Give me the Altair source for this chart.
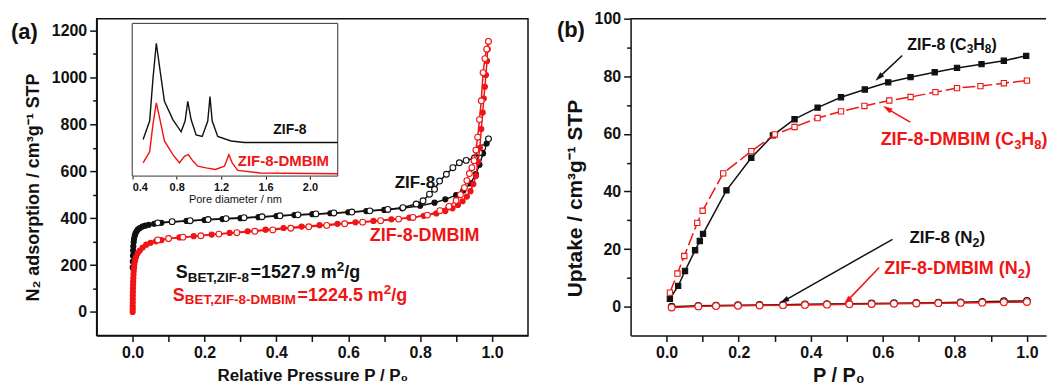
import math
import altair as alt
import pandas as pd

FONT = "Liberation Sans"
INK = "#111111"
RED = "#f01414"

# ---------------- Panel (a): N2 isotherms ----------------
zif8_ads_p = [0.0003, 0.0006, 0.001, 0.0015, 0.002, 0.003, 0.004, 0.006, 0.008, 0.011, 0.015, 0.02,
              0.027, 0.035, 0.045, 0.06, 0.08, 0.11, 0.15, 0.2, 0.25, 0.3, 0.35, 0.4, 0.45, 0.5, 0.55,
              0.6, 0.65, 0.7, 0.75, 0.8, 0.84, 0.87, 0.9, 0.92, 0.94, 0.955, 0.965, 0.975, 0.985, 0.99]
zif8_ads_v = [190, 215, 240, 262, 280, 298, 312, 325, 335, 344, 352, 358,
              364, 368, 372, 376, 380, 384, 388, 392, 396, 400, 404, 409, 413, 417, 421,
              425, 430, 435, 442, 453, 466, 480, 498, 518, 548, 588, 628, 676, 718, 738]
zif8_des_p = [0.99, 0.974, 0.965, 0.951, 0.928, 0.909, 0.891, 0.873, 0.854, 0.84, 0.826, 0.808,
              0.789, 0.752, 0.71, 0.66, 0.61, 0.56, 0.51, 0.46, 0.41, 0.36, 0.31, 0.26, 0.21, 0.16,
              0.11, 0.07]
zif8_des_v = [738, 700, 679, 656, 646, 636, 615, 587, 558, 523, 502, 474,
              460, 445, 437, 431, 426, 422, 418, 414, 410, 406, 402, 398, 394, 389,
              385, 380]
dmb_ads_p = [0.0001, 0.0002, 0.0003, 0.0004, 0.0005, 0.0006, 0.0008, 0.001, 0.0013, 0.0016, 0.002,
             0.0025, 0.003, 0.004, 0.005, 0.007, 0.01, 0.014, 0.02, 0.028, 0.038, 0.05, 0.065, 0.08,
             0.1, 0.13, 0.17, 0.22, 0.27, 0.32, 0.37, 0.42, 0.47, 0.52, 0.57, 0.62, 0.67, 0.72, 0.77,
             0.81, 0.845, 0.87, 0.89, 0.905, 0.918, 0.93, 0.94, 0.948, 0.955, 0.961, 0.966, 0.97,
             0.974, 0.977, 0.98, 0.983, 0.986, 0.988, 0.99]
dmb_ads_v = [0, 12, 25, 40, 55, 70, 85, 100, 115, 130, 145,
             160, 175, 190, 205, 220, 235, 250, 262, 275, 287, 295, 301, 306,
             312, 318, 323, 330, 337, 344, 351, 358, 364, 370, 376, 382, 388, 395, 402,
             410, 420, 430, 442, 456, 472, 492, 515, 545, 580, 640, 700, 780,
             850, 910, 960, 1010, 1070, 1120, 1153]
dmb_des_p = [0.99, 0.985, 0.98, 0.975, 0.97, 0.965, 0.96, 0.955, 0.95, 0.944, 0.937, 0.93, 0.923,
             0.912, 0.9, 0.88, 0.855, 0.82, 0.78, 0.74, 0.69, 0.64, 0.59, 0.54, 0.49, 0.44, 0.39,
             0.34, 0.29, 0.24, 0.19, 0.14, 0.1, 0.07]
dmb_des_v = [1153, 1120, 1080, 1020, 900, 820, 745, 690, 645, 615, 590, 560, 530,
             500, 475, 450, 432, 413, 403, 396, 389, 383, 376, 369, 363, 357, 350,
             344, 338, 332, 325, 319, 313, 307]

# inset: pore size distribution (arbitrary units)
psd_zif8_d = [0.498, 0.557, 0.587, 0.617, 0.647, 0.69, 0.766, 0.84, 0.876, 0.9, 0.93, 0.975, 1.03,
              1.08, 1.10, 1.12, 1.17, 1.29, 1.41, 2.25]
psd_zif8_w = [24, 36, 64, 87, 71, 49, 37, 29, 36, 49, 37, 27, 26, 36, 52, 36, 26, 23, 22, 22]
psd_dmb_d = [0.498, 0.557, 0.587, 0.617, 0.647, 0.69, 0.766, 0.825, 0.87, 0.905, 0.945, 0.99, 1.065,
             1.15, 1.23, 1.27, 1.30, 1.35, 1.555, 2.25]
psd_dmb_w = [8.7, 16, 34, 48, 38, 23, 14, 8.7, 13, 14, 10, 6.5, 5.4, 4.3, 6.5, 14, 8.7, 3.7, 2, 1.5]

# ---------------- Panel (b): C3H8 / N2 uptake ----------------
c3_zif8_p = [0.009, 0.032, 0.051, 0.079, 0.092, 0.101, 0.166, 0.235, 0.295, 0.355, 0.419, 0.484,
             0.55, 0.615, 0.677, 0.744, 0.806, 0.874, 0.936, 0.998]
c3_zif8_v = [2.7, 7.2, 12.4, 19.6, 22.8, 25.3, 40.4, 51.7, 59.5, 65.1, 69.1, 72.7,
             75.4, 77.9, 79.7, 81.4, 82.9, 84.2, 85.4, 87.1]
c3_dmb_p = [0.009, 0.03, 0.049, 0.085, 0.1, 0.157, 0.235, 0.3, 0.355, 0.419, 0.484, 0.549, 0.618,
            0.677, 0.746, 0.806, 0.871, 0.936, 1.0]
c3_dmb_v = [4.9, 11.5, 17.6, 29.1, 33.3, 46.3, 54.0, 59.8, 62.4, 65.5, 67.8, 69.7, 71.6,
            72.8, 74.5, 75.9, 76.6, 77.6, 78.5]
n2_p = [0.014, 0.088, 0.137, 0.198, 0.258, 0.323, 0.384, 0.445, 0.507, 0.569, 0.631, 0.693, 0.754,
        0.816, 0.876, 0.936, 1.0]
n2_zif8_v = [0.0, 0.3, 0.4, 0.5, 0.6, 0.7, 0.8, 0.9, 1.0, 1.1, 1.2, 1.3, 1.4, 1.5, 1.7, 1.9, 2.0]
n2_dmb_v = [-0.3, 0.1, 0.2, 0.3, 0.4, 0.5, 0.6, 0.7, 0.8, 0.9, 1.0, 1.1, 1.2, 1.3, 1.4, 1.5, 1.6]

# tick values
A_XTICKS = [0.0, 0.1, 0.2, 0.3, 0.4, 0.5, 0.6, 0.7, 0.8, 0.9, 1.0]
A_YTICKS = [0, 100, 200, 300, 400, 500, 600, 700, 800, 900, 1000, 1100, 1200]
B_YTICKS = [0, 10, 20, 30, 40, 50, 60, 70, 80, 90, 100]
IN_XTICKS = [0.4, 0.8, 1.2, 1.6, 2.0]

# ---------------- geometry / style ----------------
A_W, A_H = 433, 318
B_W, B_H = 417, 318
A_XDOM, A_YDOM = [-0.1, 1.1], [-100, 1250]
B_XDOM, B_YDOM = [-0.1, 1.053], [-10, 100]
IN_XDOM, IN_YDOM = [0.4, 2.25], [0, 100]
IN_XRANGE, IN_YRANGE = [35.7, 242], [158, 4.7]

# Arial/Liberation Sans Bold advance widths (per em) for rich-text layout
BOLD_W = {" ": .278, "(": .333, ")": .333, "-": .333, ",": .278, ".": .278, "/": .278, "=": .584,
          "B": .722, "C": .722, "D": .722, "E": .667, "F": .611, "H": .722, "I": .278, "M": .833,
          "N": .722, "S": .667, "T": .611, "Z": .611, "m": .889, "g": .611}


def text_width(s, size):
    return sum(BOLD_W.get(ch, .556) for ch in s) * size


AX = dict(domainColor=INK, domainWidth=1.5, tickColor=INK, tickWidth=1.5,
          labelFont=FONT, labelFontSize=16, labelFontWeight="bold", labelColor=INK,
          titleFont=FONT, titleFontWeight="bold", titleColor=INK, grid=False)


def minor_ticks(test):
    return {"condition": {"test": test, "value": 7}, "value": 4}


ax_a_x = alt.Axis(values=A_XTICKS, title="Relative Pressure P / P₀", titleFontSize=17, titlePadding=7,
                  tickSize=6, labelPadding=3,
                  labelExpr="abs(round(datum.value*10)) % 2 == 0 ? format(datum.value, '.1f') : ''", **AX)
ax_a_y = alt.Axis(values=A_YTICKS, title="N₂ adsorption / cm³g⁻¹ STP", titleFontSize=18, titlePadding=9,
                  titleY=169, tickSize=minor_ticks("datum.value % 200 == 0"), labelPadding=3,
                  labelExpr="datum.value % 200 == 0 ? format(datum.value, 'd') : ''", **AX)
ax_b_x = alt.Axis(values=A_XTICKS, title="P / P₀", titleFontSize=20, titlePadding=5,
                  tickSize=6, labelPadding=3,
                  labelExpr="abs(round(datum.value*10)) % 2 == 0 ? format(datum.value, '.1f') : ''", **AX)
ax_b_y = alt.Axis(values=B_YTICKS, title="Uptake / cm³g⁻¹ STP", titleFontSize=21, titlePadding=9,
                  titleY=180, tickSize=minor_ticks("datum.value % 20 == 0"), labelPadding=3,
                  labelExpr="datum.value % 20 == 0 ? format(datum.value, 'd') : ''", **AX)
ax_in_x = alt.Axis(orient="bottom", offset=-160, values=IN_XTICKS, format=".1f", title="Pore diameter / nm",
                   titleFont=FONT, titleFontSize=11, titleFontWeight="normal", titleColor=INK, titlePadding=2,
                   labelFont=FONT, labelFontSize=11, labelFontWeight="bold", labelColor=INK, labelPadding=2,
                   tickColor=INK, tickSize=3, tickWidth=1, domain=False, grid=False)

sa_x = alt.Scale(domain=A_XDOM, nice=False, zero=False)
sa_y = alt.Scale(domain=A_YDOM, nice=False, zero=False)
sb_x = alt.Scale(domain=B_XDOM, nice=False, zero=False)
sb_y = alt.Scale(domain=B_YDOM, nice=False, zero=False)
si_x = alt.Scale(domain=IN_XDOM, range=IN_XRANGE, nice=False, zero=False)
si_y = alt.Scale(domain=IN_YDOM, range=IN_YRANGE, nice=False, zero=False)


def enc_a(fx, fy):
    return dict(x=alt.X(fx, type="quantitative", scale=sa_x, axis=ax_a_x),
                y=alt.Y(fy, type="quantitative", scale=sa_y, axis=ax_a_y))


def enc_b(fx, fy):
    return dict(x=alt.X(fx, type="quantitative", scale=sb_x, axis=ax_b_x),
                y=alt.Y(fy, type="quantitative", scale=sb_y, axis=ax_b_y))


def enc_in(fx, fy):
    return dict(x=alt.X(fx, type="quantitative", scale=si_x, axis=ax_in_x),
                y=alt.Y(fy, type="quantitative", scale=si_y, axis=None))


def series(p, v, color, enc, fill, size, shape="circle", dash=None, sw=1.5, points=True):
    df = pd.DataFrame({"p": p, "v": v, "o": list(range(len(p)))})
    kw = dict(color=color, strokeWidth=sw)
    if dash:
        kw["strokeDash"] = dash
    out = [alt.Chart(df).mark_line(**kw).encode(order="o:Q", **enc("p", "v"))]
    if points:
        out.append(alt.Chart(df).mark_point(shape=shape, filled=True, fill=fill, stroke=color,
                                            strokeWidth=1.1, size=size, opacity=1).encode(**enc("p", "v")))
    return out


def label(enc, p, v, text, color, size, dx=0, dy=0, weight="bold"):
    df = pd.DataFrame({"p": [p], "v": [v], "t": [text]})
    return alt.Chart(df).mark_text(align="left", baseline="alphabetic", dx=dx, dy=dy, font=FONT,
                                   fontSize=size, fontWeight=weight, color=color).encode(text="t:N", **enc("p", "v"))


def rich(enc, p, v, pieces, color, size, small):
    """pieces: list of (text, kind) with kind 'n' normal, 'sub' subscript, 'sup' superscript."""
    out, dx = [], 0.0
    for txt, kind in pieces:
        fs = size if kind == "n" else small
        dy = 0 if kind == "n" else (round(size * 0.24) if kind == "sub" else -round(size * 0.4))
        out.append(label(enc, p, v, txt, color, fs, dx=round(dx, 1), dy=dy))
        dx += text_width(txt, fs)
    return out


def arrow(enc, p0, v0, p1, v1, color, pxx, pxy):
    df = pd.DataFrame({"p0": [p0], "v0": [v0], "p1": [p1], "v1": [v1]})
    rule = alt.Chart(df).mark_rule(color=color, strokeWidth=1.5).encode(
        x2=alt.X2("p1"), y2=alt.Y2("v1"), **enc("p0", "v0"))
    dxp = (p1 - p0) * pxx
    dyp = -(v1 - v0) * pxy
    ang = math.degrees(math.atan2(dxp, -dyp)) % 360
    head = alt.Chart(df).mark_point(shape="M0,-1L0.55,0.9L-0.55,0.9Z", filled=True, fill=color, stroke=color,
                                    strokeWidth=0.5, size=80, angle=ang, opacity=1).encode(**enc("p1", "v1"))
    return [rule, head]


def corner(text, x, y):
    return alt.Chart(pd.DataFrame({"t": [text]})).mark_text(
        align="left", baseline="top", font=FONT, fontSize=22, fontWeight="bold", color=INK
    ).encode(x=alt.value(x), y=alt.value(y), text="t:N")


# ---------------- panel (a) ----------------
layers_a = []
layers_a += series(zif8_ads_p, zif8_ads_v, INK, enc_a, INK, 26)
layers_a += series(zif8_des_p, zif8_des_v, INK, enc_a, "white", 34)
layers_a += series(dmb_ads_p, dmb_ads_v, RED, enc_a, RED, 26)
layers_a += series(dmb_des_p, dmb_des_v, RED, enc_a, "white", 34)
layers_a += [
    label(enc_a, 0.729, 529, "ZIF-8", INK, 17),
    label(enc_a, 0.66, 304, "ZIF-8-DMBIM", RED, 18),
    corner("(a)", -86, 3),
]
layers_a += rich(enc_a, 0.12, 146.6, [("S", "n"), ("BET,ZIF-8", "sub"), ("=1527.9 m", "n"),
                                        ("2", "sup"), ("/g", "n")], INK, 18, 13.5)
layers_a += rich(enc_a, 0.112, 49, [("S", "n"), ("BET,ZIF-8-DMBIM", "sub"), ("=1224.5 m", "n"),
                                     ("2", "sup"), ("/g", "n")], RED, 18, 13.5)
main_a = alt.layer(*layers_a)

frame_df = pd.DataFrame({"x0": [IN_XDOM[0]], "x1": [IN_XDOM[1]], "y0": [IN_YDOM[0]], "y1": [IN_YDOM[1]]})
inset_frame = alt.Chart(frame_df).mark_rect(fill="white", stroke="#333333", strokeWidth=1).encode(
    x2=alt.X2("x1"), y2=alt.Y2("y1"), **enc_in("x0", "y0"))
inset_layers = [inset_frame]
inset_layers += series(psd_zif8_d, psd_zif8_w, INK, enc_in, INK, 10, sw=1.4, points=False)
inset_layers += series(psd_dmb_d, psd_dmb_w, RED, enc_in, RED, 10, sw=1.4, points=False)
inset_layers += [
    label(enc_in, 1.67, 27.4, "ZIF-8", INK, 14),
    label(enc_in, 1.35, 6.5, "ZIF-8-DMBIM", RED, 15),
]
inset = alt.layer(*inset_layers)

panel_a = alt.layer(main_a, inset).resolve_scale(x="independent", y="independent").properties(
    width=A_W, height=A_H)

# ---------------- panel (b) ----------------
PXX = B_W / (B_XDOM[1] - B_XDOM[0])
PXY = B_H / (B_YDOM[1] - B_YDOM[0])
layers_b = []
layers_b += series(n2_p, n2_zif8_v, INK, enc_b, "white", 45)
layers_b += series(n2_p, n2_dmb_v, RED, enc_b, "white", 45)
layers_b += series(c3_zif8_p, c3_zif8_v, INK, enc_b, INK, 28, shape="square")
layers_b += series(c3_dmb_p, c3_dmb_v, RED, enc_b, "white", 28, shape="square", dash=[13, 4])
layers_b += arrow(enc_b, 0.654, 87.2, 0.59, 79.7, INK, PXX, PXY)
layers_b += arrow(enc_b, 0.676, 64.1, 0.613, 68.7, RED, PXX, PXY)
layers_b += arrow(enc_b, 0.627, 23.4, 0.327, 2.1, INK, PXX, PXY)
layers_b += arrow(enc_b, 0.59, 13.6, 0.502, 2.1, RED, PXX, PXY)
layers_b += rich(enc_b, 0.668, 89.3, [("ZIF-8 (C", "n"), ("3", "sub"), ("H", "n"), ("8", "sub"), (")", "n")],
                 INK, 16, 12)
layers_b += rich(enc_b, 0.594, 56.2, [("ZIF-8-DMBIM (C", "n"), ("3", "sub"), ("H", "n"), ("8", "sub"),
                                      (")", "n")], RED, 18, 13)
layers_b += rich(enc_b, 0.674, 22.0, [("ZIF-8 (N", "n"), ("2", "sub"), (")", "n")], INK, 17, 12.5)
layers_b += rich(enc_b, 0.604, 11.4, [("ZIF-8-DMBIM (N", "n"), ("2", "sub"), (")", "n")], RED, 18, 13)
layers_b += [
    alt.Chart(pd.DataFrame({"z": [0]})).mark_rule(color=INK, strokeWidth=1.5).encode(
        x=alt.value(0), x2=alt.value(B_W), y=alt.value(0)),
    corner("(b)", -74, 1),
]
panel_b = alt.layer(*layers_b).properties(width=B_W, height=B_H,
                                          view=alt.ViewBackground(stroke="transparent"))

chart = alt.hconcat(panel_a, panel_b, spacing=103, bounds="flush").properties(
    padding={"left": 2, "top": 1, "right": 0, "bottom": 0}, background="white"
).configure_view(stroke=INK, strokeWidth=1.5)

chart.save("out.html", embed_options={"renderer": "svg", "actions": False})
